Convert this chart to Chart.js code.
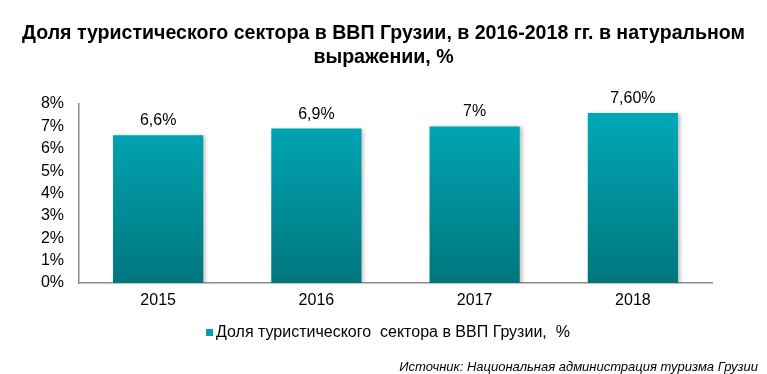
<!DOCTYPE html>
<html>
<head>
<meta charset="utf-8">
<script src="https://cdn.jsdelivr.net/npm/chart.js@4/dist/chart.umd.min.js"></script>
<style>
html,body{margin:0;padding:0;background:#fff;}
#wrap{width:767px;height:374px;position:relative;}
</style>
</head>
<body>
<div id="wrap"><canvas id="c" width="767" height="374"></canvas></div>
<script>
const categories = ['2015', '2016', '2017', '2018'];
const values = [6.6, 6.9, 7.0, 7.6];
const valueLabels = ['6,6%', '6,9%', '7%', '7,60%'];
const yTicks = [0, 1, 2, 3, 4, 5, 6, 7, 8];
const seriesName = 'Доля туристического  сектора в ВВП Грузии,  %';
const titleLines = ['Доля туристического сектора в ВВП Грузии, в 2016-2018 гг. в натуральном', 'выражении, %'];
const sourceText = 'Источник: Национальная администрация туризма Грузии';

const FONT = '"Liberation Sans", Arial, sans-serif';

function barGradient(ctx) {
  const chart = ctx.chart;
  const area = chart.chartArea;
  if (!area) return '#009aa6';
  const y = chart.scales.y;
  const g = chart.ctx.createLinearGradient(0, y.getPixelForValue(7.6), 0, y.getPixelForValue(0));
  g.addColorStop(0, '#00A9B7');
  g.addColorStop(1, '#00767E');
  return g;
}

const decor = {
  id: 'decor',
  beforeDatasetsDraw(chart) {
    const c = chart.ctx;
    c.save();
    c.shadowColor = 'rgba(0,0,0,0.28)';
    c.shadowBlur = 4;
    c.shadowOffsetX = 2;
    c.shadowOffsetY = 1;
  },
  afterDatasetsDraw(chart) {
    chart.ctx.restore();
    const c = chart.ctx;
    const meta = chart.getDatasetMeta(0);
    c.save();
    c.fillStyle = '#000';
    c.font = '16px ' + FONT;
    c.textAlign = 'center';
    c.textBaseline = 'alphabetic';
    meta.data.forEach((bar, i) => {
      c.fillText(valueLabels[i], bar.x, bar.y - 10);
    });
    c.restore();
  },
  afterDraw(chart) {
    const c = chart.ctx;
    c.save();
    // title (condensed look: scaled horizontally to the reference width)
    c.fillStyle = '#000';
    c.font = 'bold 21px ' + FONT;
    c.textAlign = 'center';
    c.textBaseline = 'middle';
    const w1 = c.measureText(titleLines[0]).width;
    const sx = 723 / w1;
    c.save();
    c.translate(383.5, 0);
    c.scale(sx, 1);
    c.fillText(titleLines[0], 0, 33);
    c.fillText(titleLines[1], 0, 57);
    c.restore();
    // legend
    c.font = '16px ' + FONT;
    c.textAlign = 'left';
    c.fillStyle = '#00A0AC';
    c.fillRect(206, 329, 7, 7);
    c.fillStyle = '#000';
    c.fillText(seriesName, 216, 333);
    // source
    c.font = 'italic 13px ' + FONT;
    c.textAlign = 'right';
    c.fillText(sourceText, 758, 367);
    c.restore();
  }
};

new Chart(document.getElementById('c'), {
  type: 'bar',
  data: {
    labels: categories,
    datasets: [{
      label: seriesName,
      data: values,
      backgroundColor: barGradient,
      borderWidth: 0,
      categoryPercentage: 1.0,
      barPercentage: 0.57
    }]
  },
  options: {
    responsive: false,
    animation: false,
    devicePixelRatio: 1,
    layout: { padding: { left: 0, right: 55, top: 104, bottom: 0 } },
    plugins: {
      legend: { display: false },
      title: { display: false },
      tooltip: { enabled: false }
    },
    scales: {
      x: {
        grid: { display: false, drawTicks: false },
        border: { display: true, color: '#8c8c8c', width: 1.5 },
        ticks: { color: '#000', font: { family: FONT, size: 16 }, padding: 8 },
        afterFit(scale) { scale.height = 91; }
      },
      y: {
        min: 0,
        max: 8,
        grid: { display: false, drawTicks: false },
        border: { display: true, color: '#8c8c8c', width: 1.5 },
        afterBuildTicks(scale) { scale.ticks = yTicks.map(v => ({ value: v })); },
        ticks: {
          color: '#000',
          font: { family: FONT, size: 16 },
          padding: 15,
          callback: (v) => v + '%'
        },
        afterFit(scale) { scale.width = 79; }
      }
    }
  },
  plugins: [decor]
});
</script>
</body>
</html>
